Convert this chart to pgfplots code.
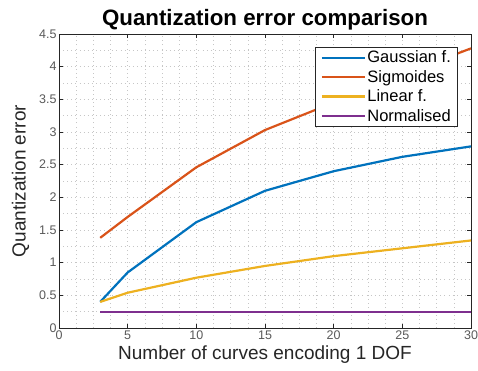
\documentclass[border=0pt]{standalone}
\usepackage{pgfplots}
\pgfplotsset{compat=1.18}
\usepackage{fontspec}
\setmainfont{Liberation Sans}
\definecolor{mblue}{rgb}{0,0.447,0.741}
\definecolor{morange}{rgb}{0.85,0.325,0.098}
\definecolor{mlyellow}{rgb}{0.929,0.694,0.125}
\definecolor{mpurple}{rgb}{0.494,0.184,0.556}
\definecolor{axgray}{gray}{0.15}
\begin{document}
\begin{tikzpicture}
\begin{axis}[name=ax,
  scale only axis, width=412pt, height=294pt,
  xmin=0, xmax=30, ymin=0, ymax=4.5,
  xtick={0,5,...,30}, ytick={0,0.5,...,4.5},
  yticklabels={0,0.5,1,1.5,2,2.5,3,3.5,4,4.5},
  minor x tick num=3, minor y tick num=1,
  grid=both,
  major grid style={gray!45, line width=0.6pt, dash pattern=on 0.6pt off 3.5pt},
  minor grid style={gray!45, line width=0.6pt, dash pattern=on 0.6pt off 3.5pt},
  tick align=inside, tick pos=both,
  major tick length=4pt, minor tick length=0pt,
  axis line style={axgray, line width=0.9pt},
  every tick/.style={axgray, line width=0.7pt},
  /pgf/number format/assume math mode=true,
  tick label style={font=\fontsize{12.5}{14}\selectfont, text=black!65},
  xticklabel style={yshift=1pt},
  yticklabel style={xshift=1pt},
  xlabel={Number of curves encoding 1 DOF},
  ylabel={Quantization error},
  label style={font=\fontsize{19}{22}\selectfont, text=axgray},
  xlabel style={yshift=1pt},
  ylabel style={yshift=3pt},
  title={Quantization error comparison},
  title style={font=\fontsize{22.3}{26}\selectfont\bfseries, yshift=-6pt},
  legend style={at={(0.968,0.956)}, anchor=north east, draw=axgray, line width=0.9pt,
    font=\fontsize{16.5}{19}\selectfont, row sep=3pt, inner xsep=5pt, inner ysep=2pt, fill=white,
    nodes={inner sep=1.5pt}},
  legend cell align=left,
  legend image code/.code={\draw[#1, line width=2.2pt] (0cm,0cm) -- (43pt,0cm);},
]
\addplot[draw=mblue, line width=2.2pt] coordinates {(3,0.40) (5,0.85) (10,1.62) (15,2.10) (20,2.40) (25,2.62) (30,2.78)};
\addlegendentry{Gaussian f.}
\addplot[draw=morange, line width=2.2pt] coordinates {(3,1.38) (5,1.70) (10,2.46) (15,3.03) (20,3.45) (25,3.88) (30,4.28)};
\addlegendentry{Sigmoides}
\addplot[draw=mlyellow, line width=2.2pt] coordinates {(3,0.40) (5,0.54) (10,0.77) (15,0.95) (20,1.10) (25,1.22) (30,1.34)};
\addlegendentry{Linear f.}
\addplot[draw=mpurple, line width=2.2pt] coordinates {(3,0.25) (5,0.25) (10,0.25) (15,0.25) (20,0.25) (25,0.25) (30,0.25)};
\addlegendentry{Normalised}
\end{axis}
\pgfresetboundingbox
\path[use as bounding box] (ax.south west) ++(-59pt,-42pt) rectangle ++(478pt,370pt);
\end{tikzpicture}
\end{document}
